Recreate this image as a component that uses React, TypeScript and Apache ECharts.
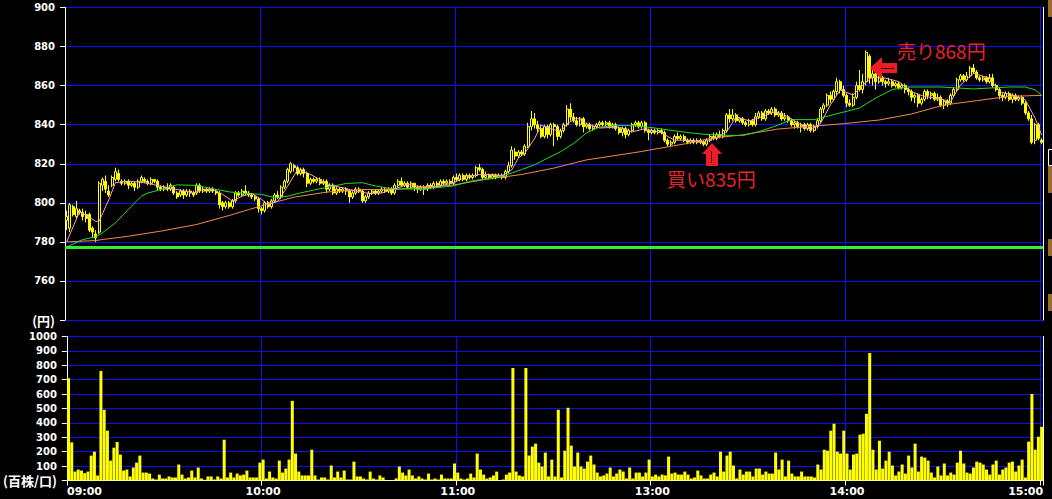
import React, { useEffect, useRef } from "react";
import * as echarts from "echarts";

// ---------- DATA ----------
// 1-minute candles [open, close, low, high]; morning 09:00-11:29 (150 slots)
const candlesAM: number[][] = [
  [791,793,786,796],[787,799,785,800],[798,794,793,799],[793,797,792,801],[796,795,794,797],[795,793,791,797],[794,792,790,796],[794,786,785,795],[787,785,782,788],[784,782,780,786],
  [785,810,784,811],[809,812,806,813],[811,807,805,814],[806,804,803,809],[809,813,808,814],[812,816,811,818],[815,812,811,817],[811,810,809,812],[810,811,809,812],[811,809,807,812],
  [809,810,808,811],[810,808,806,811],[808,811,807,812],[811,813,810,814],[812,811,810,813],[811,810,809,812],[810,812,809,813],[812,811,810,812],[811,808,806,812],[808,807,806,809],
  [807,808,806,809],[808,807,806,810],[807,809,806,810],[808,805,804,809],[805,803,802,806],[804,806,803,807],[806,804,802,807],[804,806,803,807],[806,805,803,807],[805,804,803,806],
  [805,809,804,810],[809,806,805,810],[806,807,805,808],[807,806,805,808],[806,807,805,808],[807,806,805,808],[806,805,804,807],[805,799,797,806],[800,798,796,801],[798,800,797,801],
  [800,798,797,801],[798,801,797,802],[801,805,800,806],[805,804,803,806],[804,806,803,807],[806,805,804,809],[805,804,803,806],[804,803,802,805],[803,802,801,804],[802,797,795,803],
  [797,796,794,798],[796,800,795,801],[800,798,797,801],[798,801,797,802],[801,804,800,805],[804,803,802,806],[803,808,802,809],[808,811,807,812],[811,817,810,818],[816,820,815,821],
  [819,818,816,820],[818,815,814,819],[815,817,814,818],[817,815,813,818],[815,810,808,816],[810,812,809,813],[812,811,810,813],[811,812,810,813],[812,810,809,813],[810,811,809,812],
  [811,807,805,812],[807,809,806,810],[809,805,804,810],[805,807,804,808],[807,806,805,808],[806,807,805,808],[807,806,804,808],[806,803,800,807],[803,805,802,806],[805,807,804,808],
  [807,806,805,808],[806,801,800,807],[801,803,800,804],[803,805,802,806],[805,806,804,807],[806,805,804,807],[805,806,804,807],[806,807,805,808],[807,806,805,808],[806,807,805,808],
  [807,805,804,808],[805,809,804,810],[809,811,808,812],[811,809,808,813],[809,810,808,811],[810,808,807,811],[808,810,807,811],[810,808,806,810],[808,807,805,809],[807,808,806,809],
  [808,807,804,809],[807,809,806,810],[809,808,807,810],[808,810,807,811],[810,809,808,811],[809,811,808,812],[811,810,809,812],[810,811,809,812],[811,810,809,812],[810,813,809,814],
  [813,812,811,815],[812,814,811,815],[814,812,811,815],[812,814,811,815],[814,813,812,815],[813,814,812,815],[814,818,813,819],[818,817,816,820],[817,813,812,818],[813,814,812,816],
  [814,813,812,815],[813,814,812,815],[814,813,812,815],[813,814,813,815],[814,813,812,815],[813,816,812,817],[816,819,815,821],[819,827,818,829],[826,824,822,828],[824,826,823,827],
  [826,825,824,827],[825,829,824,830],[829,839,828,841],[839,843,837,847],[843,840,838,846],[840,838,836,842],[838,834,833,840],[834,839,833,840],[839,835,833,840],[835,840,834,841],
];

// afternoon 12:30-15:00 (151 slots)
const candlesPM: number[][] = [
  [840,839,829,841],[839,834,832,840],[834,837,833,838],[837,840,836,841],[840,848,839,850],[848,844,842,851],[844,842,841,846],[842,840,839,844],[840,843,839,844],[843,839,836,844],
  [839,840,838,841],[840,838,837,841],[838,839,837,840],[839,840,838,841],[840,841,839,842],[841,840,839,842],[840,841,839,842],[841,839,838,842],[839,840,838,841],[840,838,837,841],
  [838,836,835,839],[836,838,834,839],[838,835,833,839],[835,837,834,838],[837,840,836,841],[840,841,839,842],[841,839,838,842],[839,841,838,842],[841,837,836,842],[837,836,832,838],
  [836,837,835,838],[837,836,835,838],[836,837,835,838],[837,836,835,838],[836,832,831,837],[832,830,829,833],[830,831,829,832],[831,834,830,835],[834,833,832,836],[833,834,832,835],
  [834,832,831,835],[832,831,830,833],[831,832,830,833],[832,831,830,833],[831,832,830,833],[832,831,830,833],[831,830,829,832],[830,832,829,833],[832,834,831,835],[834,833,832,836],
  [833,835,832,836],[835,834,833,837],[834,837,833,838],[837,845,836,846],[845,843,841,848],[843,845,842,848],[845,842,841,846],[842,843,841,844],[843,841,840,844],[841,840,839,842],
  [840,842,839,843],[842,840,839,843],[840,844,839,846],[844,846,843,847],[846,843,842,847],[843,847,842,848],[847,846,845,848],[846,848,845,849],[848,845,844,849],[845,846,844,847],
  [846,843,842,847],[843,844,842,846],[844,842,841,845],[842,840,839,843],[840,841,838,842],[841,839,838,842],[839,840,836,841],[840,838,837,841],[838,840,837,841],[840,837,836,841],
  [837,839,836,840],[839,842,838,843],[842,848,841,849],[848,850,846,851],[850,855,849,856],[855,853,851,857],[853,857,852,858],[857,862,855,864],[862,858,856,863],[858,855,854,860],
  [855,851,849,856],[851,850,849,853],[850,854,849,856],[854,860,853,862],[860,858,857,868],[858,862,856,866],[862,877,860,878],[875,864,861,876],[864,866,860,868],[866,862,858,867],
  [862,864,861,866],[864,862,860,865],[862,861,859,863],[861,862,860,864],[862,860,859,863],[860,861,859,862],[861,859,858,862],[859,860,858,861],[860,858,856,861],[858,857,855,859],
  [857,854,852,858],[854,855,851,856],[855,851,849,856],[851,853,850,854],[853,857,852,858],[857,855,853,858],[855,856,853,857],[856,853,852,857],[853,854,852,856],[854,850,849,855],
  [850,852,848,853],[852,851,849,853],[851,855,850,856],[855,858,854,859],[858,863,857,864],[863,865,862,866],[865,863,862,866],[863,865,862,867],[865,869,864,870],[869,867,866,871],
  [867,864,863,868],[864,863,862,865],[863,864,862,865],[864,862,861,865],[862,864,861,866],[864,860,859,866],[860,858,857,861],[858,855,853,859],[855,854,852,856],[854,856,853,857],
  [856,853,852,857],[853,855,851,856],[855,853,852,856],[853,854,852,855],[854,851,850,855],[851,846,845,852],[846,843,842,847],[843,831,830,845],[832,840,830,841],[840,833,832,841],
  [832,831,830,833],
];

// volume (百株)
const volumeAM: number[] = [
  710,265,62,76,69,51,62,173,200,35,
  760,491,346,138,228,267,180,69,76,28,
  90,124,173,55,55,48,14,7,41,14,
  14,28,21,21,111,41,14,21,69,21,
  90,14,5,28,28,7,28,14,283,21,
  55,21,48,35,41,69,21,21,21,124,
  145,14,62,21,14,138,55,83,145,553,
  187,62,35,35,35,214,35,7,21,21,
  7,104,21,62,21,69,7,7,131,28,
  28,14,7,62,14,7,35,21,3,2,
  2,14,97,55,35,76,35,14,28,14,
  7,48,7,14,7,41,14,14,14,118,
  55,14,7,14,48,21,187,76,41,14,
  21,35,62,3,7,41,55,781,62,35,
  28,781,173,235,256,124,97,194,28,145,
];
const volumePM: number[] = [
  28,491,21,207,505,242,97,194,97,83,
  131,173,111,55,28,35,48,90,28,48,
  76,62,14,90,14,55,55,28,55,145,
  28,41,28,41,35,166,48,55,41,41,
  62,41,14,21,69,35,14,14,41,55,
  28,200,62,173,200,104,14,76,41,62,
  62,28,83,83,41,62,48,48,194,76,
  145,28,138,48,28,28,62,28,28,28,
  21,111,76,214,207,346,394,200,187,346,
  187,76,180,187,318,325,463,885,214,76,
  276,83,138,200,104,35,62,111,48,173,
  90,256,62,166,159,138,55,21,97,35,
  118,35,55,41,124,207,118,55,48,90,
  131,124,111,76,41,111,138,41,76,90,
  124,131,62,104,145,21,270,601,214,304,
  373,
];

// moving averages, read as [slot, price]
const maShort: number[][] = [
  [0,780],[4,795.5],[9,790.5],[10,790.6],[13,801.7],[15,810.3],[19,811.1],[24,810.3],[29,808.5],[34,806.8],
  [39,805.1],[42,806.8],[45,806.8],[48,804.3],[51,800.9],[54,803.4],[57,804.8],[60,801.7],[62,799.1],[65,800.9],
  [68,808.5],[71,816.8],[74,815.4],[77,812.8],[80,809.4],[85,807.7],[89,806],[93,804.8],[97,805],[100,806.7],
  [105,809.4],[109,808.2],[114,808.2],[119,810.3],[123,813.3],[127,814.5],[131,814.5],[134,814],[137,817],[139,822.9],
  [141,825.4],[144,832.9],[146,839.7],[149,838],[152,836.3],[154,840.5],[157,843.5],[160,840.5],[164,838.3],[170,838.8],
  [174,836.3],[178,838],[183,835.8],[187,832.1],[191,832.1],[196,831.3],[200,833.5],[203,836.1],[206,844.1],[210,841.9],
  [214,844.1],[218,846.7],[222,844.1],[226,839.8],[229,837.3],[232,840.7],[235,850.1],[238,857.8],[242,855.2],[245,860.3],
  [248,864.6],[252,863.8],[256,862.1],[260,856.9],[264,854.4],[268,853.5],[272,851.8],[275,860.3],[279,866.3],[284,863.8],
  [287,856.9],[291,855.2],[295,852.7],[298,843.3],[300,834.7],
];
const maMid: number[][] = [
  [0,777.4],[5,781.2],[9,782.6],[11,784.6],[15,789.7],[19,796.6],[23,803.4],[25,805],[29,806.8],[34,809.2],
  [40,808.9],[45,807.2],[50,805.6],[55,804.8],[60,804.3],[64,802.6],[68,803.4],[72,805.1],[76,806.5],[81,808.2],
  [86,809.9],[91,810.3],[95,808.6],[100,807.2],[109,807],[119,808.6],[124,811],[129,812.3],[134,813.6],[140,817],
  [144,819.5],[148,822.9],[152,826.2],[156,830.4],[160,835.8],[164,838.8],[170,839.7],[176,839.3],[181,838.3],[186,837.1],
  [191,836],[196,835.1],[202,834.6],[208,834.4],[213,836.5],[218,839.2],[223,842.6],[230,842.6],[238,846],[244,848.6],
  [249,853.7],[254,858],[259,859.3],[269,859.3],[279,858.3],[290,859.3],[295,859.3],[298,857.8],[300,855],
];
const maLong: number[][] = [
  [0,780],[9,780.7],[11,781.2],[19,782.9],[29,785.5],[40,788.9],[50,793.5],[56,796.5],[60,798.5],[70,802.9],
  [80,805.5],[91,806.8],[100,806.8],[109,807.7],[119,809.1],[129,812],[140,814.5],[150,817.8],[160,822],[170,824.5],
  [177,826.3],[181,827.5],[191,830.4],[198,833],[208,834.8],[219,837.8],[228,839],[239,840.5],[250,842.4],[260,845.5],
  [270,850.1],[280,852.3],[290,854.5],[300,855],
];

const prevClose = 777;
const hourSlots = [0, 60, 120, 180, 240, 300];

function slotLabel(i: number): string {
  const m = i < 150 ? 9 * 60 + i : 12 * 60 + 30 + (i - 150);
  const h = Math.floor(m / 60);
  const mm = m % 60;
  return String(h).padStart(2, "0") + ":" + String(mm).padStart(2, "0");
}
const slots: string[] = [];
for (let i = 0; i < candlesAM.length + candlesPM.length; i++) slots.push(slotLabel(i));

// ---------- STYLE ----------
const BLUE = "#0c0cff";
const FONT = "'DejaVu Sans', 'Noto Sans CJK JP', sans-serif";
const CJK = "'Noto Sans CJK JP', sans-serif";
const RED = "#e8222a";

export default function App() {
  const ref = useRef<HTMLDivElement>(null);
  useEffect(() => {
    document.body.style.margin = "0";
    document.body.style.background = "#000";
    if (!ref.current) return;
    const chart = echarts.init(ref.current, undefined, { renderer: "svg" });
    const candles = candlesAM.concat(candlesPM);
    const volume = volumeAM.concat(volumePM);
    const yLabelBase = { color: "#fff", fontSize: 10, fontWeight: "bold", fontFamily: FONT, margin: 10 };
    const unitRich = { u: { color: "#fff", fontSize: 13, fontWeight: "bold", fontFamily: CJK } };
    const xRichBase = { color: "#fff", fontSize: 11, fontWeight: "bold", fontFamily: FONT };
    const splitInterval = (i: number) => i > 0 && i % 60 === 0;

    const option: any = {
      animation: false,
      backgroundColor: "#000",
      grid: [
        { left: 65, width: 978.25, top: 7.5, height: 312.5 },
        { left: 65, width: 978.25, top: 336.5, height: 144 },
      ],
      xAxis: [
        {
          type: "category", gridIndex: 0, data: slots, boundaryGap: true,
          axisLine: { show: false }, axisTick: { show: false }, axisLabel: { show: false },
          splitLine: { show: true, interval: splitInterval, lineStyle: { color: BLUE, width: 1 } },
        },
        {
          type: "category", gridIndex: 1, data: slots, boundaryGap: true,
          axisLine: { show: true, onZero: false, lineStyle: { color: "#fff", width: 1 } },
          axisTick: { show: true, interval: (i: number) => hourSlots.indexOf(i) >= 0, length: 5, lineStyle: { color: "#fff" } },
          axisLabel: {
            show: true,
            interval: (i: number) => hourSlots.indexOf(i) >= 0,
            margin: 5,
            formatter: (v: string, i: number) => (i === 0 ? "{l|" + v + "}" : i === 300 ? "{r|" + v + "}" : "{c|" + v + "}"),
            rich: {
              l: { ...xRichBase, padding: [0, 0, 0, 32] },
              r: { ...xRichBase, padding: [0, 32, 0, 0] },
              c: { ...xRichBase },
            },
          },
          splitLine: { show: true, interval: splitInterval, lineStyle: { color: BLUE, width: 1 } },
        },
      ],
      yAxis: [
        {
          type: "value", gridIndex: 0, min: 740, max: 900, interval: 20,
          axisLine: { show: true, onZero: false, lineStyle: { color: "#fff" } },
          axisTick: { show: true, length: 5, lineStyle: { color: "#fff" } },
          axisLabel: { ...yLabelBase, formatter: (v: number) => (v === 740 ? "{u|(円)}" : String(v)), rich: unitRich },
          splitLine: { show: true, lineStyle: { color: BLUE, width: 1 } },
        },
        {
          type: "value", gridIndex: 1, min: 0, max: 1000, interval: 100,
          axisLine: { show: true, onZero: false, lineStyle: { color: "#fff" } },
          axisTick: { show: true, length: 5, lineStyle: { color: "#fff" } },
          axisLabel: { ...yLabelBase, formatter: (v: number) => (v === 0 ? "{u|(百株/口)}" : String(v)), rich: unitRich },
          splitLine: { show: true, lineStyle: { color: BLUE, width: 1 } },
        },
        {
          type: "value", gridIndex: 0, position: "right", min: 740, max: 900,
          axisLine: { show: true, onZero: false, lineStyle: { color: "#fff" } },
          axisTick: { show: false }, axisLabel: { show: false }, splitLine: { show: false },
        },
        {
          type: "value", gridIndex: 1, position: "right", min: 0, max: 1000,
          axisLine: { show: true, onZero: false, lineStyle: { color: "#fff" } },
          axisTick: { show: false }, axisLabel: { show: false }, splitLine: { show: false },
        },
      ],
      series: [
        {
          type: "candlestick", xAxisIndex: 0, yAxisIndex: 0, data: candles, barWidth: 2.4,
          itemStyle: { color: "#000", color0: "#ffff00", borderColor: "#ffff00", borderColor0: "#ffff00", borderWidth: 1 },
          markLine: {
            silent: true, symbol: "none", label: { show: false },
            lineStyle: { color: "#33ee33", width: 3, type: "solid" },
            data: [{ yAxis: prevClose }],
          },
        },
        { type: "line", xAxisIndex: 0, yAxisIndex: 0, data: maLong, showSymbol: false, symbol: "none", lineStyle: { color: "#f08a50", width: 1 } },
        { type: "line", xAxisIndex: 0, yAxisIndex: 0, data: maMid, showSymbol: false, symbol: "none", lineStyle: { color: "#22dd22", width: 1 } },
        { type: "line", xAxisIndex: 0, yAxisIndex: 0, data: maShort, showSymbol: false, symbol: "none", lineStyle: { color: "#f4a0d0", width: 1 } },
        { type: "bar", xAxisIndex: 1, yAxisIndex: 1, data: volume, barWidth: 3, itemStyle: { color: "#ffff00" } },
      ],
      graphic: [
        { type: "rect", z: 100, shape: { x: 1048, y: 0, width: 4, height: 17 }, style: { fill: "#9c6b2e" } },
        { type: "rect", z: 100, shape: { x: 1048.5, y: 149.5, width: 4, height: 16 }, style: { fill: "#000", stroke: "#fff", lineWidth: 1 } },
        { type: "rect", z: 100, shape: { x: 1048, y: 166, width: 4, height: 27 }, style: { fill: "#9c6b2e" } },
        { type: "rect", z: 100, shape: { x: 1048, y: 239, width: 4, height: 17 }, style: { fill: "#9c6b2e" } },
        { type: "rect", z: 100, shape: { x: 1048, y: 294, width: 4, height: 17 }, style: { fill: "#9c6b2e" } },
        {
          type: "polygon", z: 100,
          shape: { points: [[870, 68], [882, 57], [882, 63], [897, 63], [897, 73], [882, 73], [882, 79]] },
          style: { fill: "#ee1c24" },
        },
        { type: "line", z: 101, shape: { x1: 881, y1: 68.5, x2: 894, y2: 68.5 }, style: { stroke: "#300000", lineWidth: 1 } },
        {
          type: "polygon", z: 100,
          shape: { points: [[712, 143], [722, 154], [718, 154], [718, 166], [706, 166], [706, 154], [702, 154]] },
          style: { fill: "#ee1c24" },
        },
        { type: "line", z: 101, shape: { x1: 711.5, y1: 151, x2: 711.5, y2: 163 }, style: { stroke: "#300000", lineWidth: 1 } },
        { type: "text", z: 100, x: 897, y: 41, style: { text: "売り868円", fill: RED, font: "19px " + CJK, align: "left", verticalAlign: "top" } },
        { type: "text", z: 100, x: 667, y: 169, style: { text: "買い835円", fill: RED, font: "19px " + CJK, align: "left", verticalAlign: "top" } },
      ],
    };
    chart.setOption(option);
    return () => chart.dispose();
  }, []);
  return <div ref={ref} style={{ width: 1052, height: 499, background: "#000" }} />;
}
